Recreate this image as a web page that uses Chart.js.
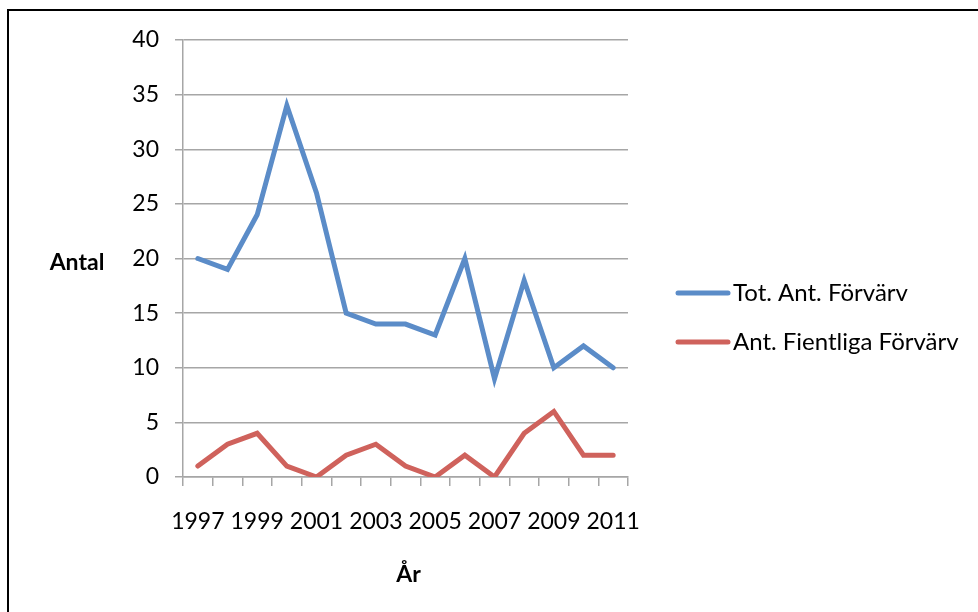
<!DOCTYPE html>
<html>
<head>
<meta charset="utf-8">
<script src="https://cdn.jsdelivr.net/npm/chart.js@4"></script>
<style>
  html, body { margin: 0; padding: 0; background: #fff; }
  #wrap { width: 978px; height: 612px; }
</style>
</head>
<body>
<div id="wrap"><canvas id="c" width="978" height="612"></canvas></div>
<script>
const years = ["1997", "1998", "1999", "2000", "2001", "2002", "2003", "2004",
  "2005", "2006", "2007", "2008", "2009", "2010", "2011"];
const totAnt = [20, 19, 24, 34, 26, 15, 14, 14, 13, 20, 9, 18, 10, 12, 10];
const fientliga = [1, 3, 4, 1, 0, 2, 3, 1, 0, 2, 0, 4, 6, 2, 2];
const seriesNames = ["Tot. Ant. Förvärv", "Ant. Fientliga Förvärv"];
const seriesColors = ["#5b8cc8", "#cf625c"];

const FONT = "Lato, 'Open Sans', sans-serif";
const gridColor = "#a6a6a6";

const extras = {
  id: "extras",
  afterDraw(chart) {
    const ctx = chart.ctx;
    ctx.save();
    // outer frame
    ctx.strokeStyle = "#000";
    ctx.lineWidth = 2;
    ctx.strokeRect(8, 10, 1000, 700);
    // axis titles
    ctx.fillStyle = "#000";
    ctx.font = "bold 23px " + FONT;
    ctx.textAlign = "center";
    ctx.textBaseline = "middle";
    ctx.fillText("Antal", 77, 263);
    const area = chart.chartArea;
    ctx.fillText("År", (area.left + area.right) / 2 + 3, 575);
    // legend
    ctx.font = "24px " + FONT;
    ctx.textAlign = "left";
    ctx.lineCap = "round";
    chart.data.datasets.forEach((ds, i) => {
      const y = 293 + i * 49;
      ctx.strokeStyle = ds.borderColor;
      ctx.lineWidth = 5;
      ctx.beginPath();
      ctx.moveTo(678, y);
      ctx.lineTo(728, y);
      ctx.stroke();
      ctx.fillText(ds.label, 733, y);
    });
    ctx.restore();
  }
};

new Chart(document.getElementById("c"), {
  type: "line",
  data: {
    labels: years,
    datasets: [
      {
        label: seriesNames[0],
        data: totAnt,
        borderColor: seriesColors[0],
        backgroundColor: seriesColors[0],
        borderWidth: 5,
        pointRadius: 0,
        tension: 0,
        borderCapStyle: "round",
        borderJoinStyle: "miter"
      },
      {
        label: seriesNames[1],
        data: fientliga,
        borderColor: seriesColors[1],
        backgroundColor: seriesColors[1],
        borderWidth: 5,
        pointRadius: 0,
        tension: 0,
        borderCapStyle: "round",
        borderJoinStyle: "miter"
      }
    ]
  },
  options: {
    responsive: false,
    animation: false,
    layout: { padding: { left: 0, top: 40, right: 350, bottom: 0 } },
    plugins: {
      legend: { display: false },
      tooltip: { enabled: false }
    },
    scales: {
      x: {
        offset: true,
        grid: {
          offset: true,
          drawOnChartArea: false,
          drawTicks: true,
          tickLength: 9,
          color: gridColor,
          lineWidth: 1.5
        },
        border: { color: gridColor, width: 1.5 },
        ticks: {
          autoSkip: false,
          maxRotation: 0,
          padding: 22,
          color: "#000",
          font: { family: FONT, size: 23 },
          callback: function (v, i) { return i % 2 === 0 ? this.getLabelForValue(v) : ""; }
        },
        afterFit(scale) { scale.height = 135; }
      },
      y: {
        min: 0,
        max: 40,
        ticks: {
          stepSize: 5,
          padding: 16,
          color: "#000",
          font: { family: FONT, size: 23 }
        },
        grid: { color: gridColor, lineWidth: 1.5, tickLength: 8 },
        border: { color: gridColor, width: 1.5 },
        afterFit(scale) { scale.width = 183; }
      }
    }
  },
  plugins: [extras]
});
</script>
</body>
</html>
